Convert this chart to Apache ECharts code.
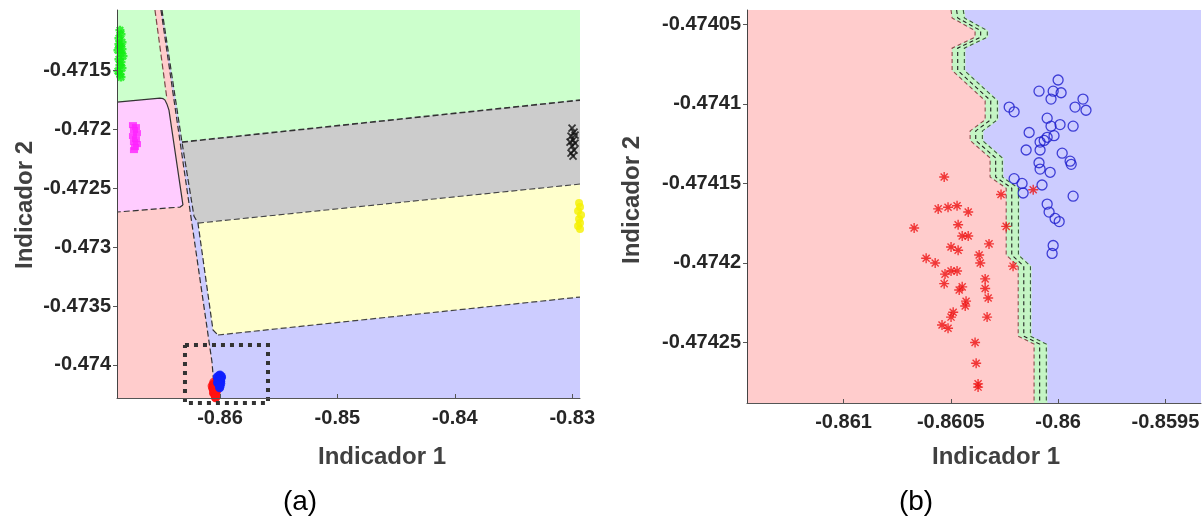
<!DOCTYPE html>
<html>
<head>
<meta charset="utf-8">
<script src="https://cdn.jsdelivr.net/npm/echarts@6/dist/echarts.min.js"></script>
<style>
html, body { margin: 0; padding: 0; background: #fff; }
#chart { width: 1203px; height: 526px; }
</style>
</head>
<body>
<div id="chart"></div>
<script>
// ---------- samples (Indicador 1, Indicador 2) ----------
const greenPts = [
  [-0.868518, -0.471161], [-0.868433, -0.471195], [-0.868603, -0.471229], [-0.868348, -0.471263],
  [-0.868603, -0.471280], [-0.868518, -0.471297], [-0.868348, -0.471322], [-0.868688, -0.471331],
  [-0.868433, -0.471356], [-0.868262, -0.471381], [-0.868603, -0.471407], [-0.868433, -0.471432],
  [-0.868518, -0.471458], [-0.868348, -0.471483], [-0.868688, -0.471508], [-0.868518, -0.471534],
  [-0.868433, -0.471559]
];
const magentaPts = [
  [-0.867411, -0.471966], [-0.867155, -0.471983], [-0.867325, -0.472008], [-0.867070, -0.472034],
  [-0.867411, -0.472059], [-0.867155, -0.472085], [-0.867325, -0.472110], [-0.867070, -0.472127],
  [-0.867240, -0.472153], [-0.867325, -0.472178]
];
const blackPts = [
  [-0.830017, -0.471992], [-0.829847, -0.472025], [-0.829761, -0.472051], [-0.830102, -0.472059],
  [-0.829932, -0.472093], [-0.830187, -0.472110], [-0.829761, -0.472119], [-0.830017, -0.472144],
  [-0.829847, -0.472178], [-0.830102, -0.472203], [-0.829932, -0.472229]
];
const yellowPts = [
  [-0.829421, -0.472627], [-0.829336, -0.472661], [-0.829506, -0.472695], [-0.829250, -0.472729],
  [-0.829421, -0.472763], [-0.829336, -0.472797], [-0.829506, -0.472822], [-0.829336, -0.472847]
];
// red and blue classes, shown in both panels
const redPts = [
  [-0.860531, -0.474146], [-0.860671, -0.474178], [-0.860615, -0.474197], [-0.860559, -0.474166],
  [-0.860513, -0.474165], [-0.860471, -0.474164], [-0.860419, -0.474168], [-0.860466, -0.474176],
  [-0.860447, -0.474183], [-0.860419, -0.474183], [-0.860266, -0.474157], [-0.860242, -0.474177],
  [-0.860322, -0.474188], [-0.860499, -0.474190], [-0.860466, -0.474192], [-0.860368, -0.474195],
  [-0.860363, -0.474200], [-0.860210, -0.474202], [-0.860527, -0.474207], [-0.860499, -0.474205],
  [-0.860471, -0.474205], [-0.860531, -0.474213], [-0.860340, -0.474210], [-0.860461, -0.474217],
  [-0.860447, -0.474215], [-0.860340, -0.474216], [-0.860326, -0.474222], [-0.860429, -0.474224],
  [-0.860433, -0.474227], [-0.860489, -0.474231], [-0.860499, -0.474234], [-0.860331, -0.474234],
  [-0.860541, -0.474239], [-0.860513, -0.474241], [-0.860387, -0.474250], [-0.860382, -0.474263],
  [-0.860373, -0.474276], [-0.860373, -0.474278], [-0.860116, -0.474154], [-0.860573, -0.474200]
];
const bluePts = [
  [-0.860000, -0.474085], [-0.860089, -0.474092], [-0.860023, -0.474092], [-0.859986, -0.474093],
  [-0.860033, -0.474097], [-0.859884, -0.474097], [-0.859921, -0.474102], [-0.859870, -0.474104],
  [-0.860228, -0.474102], [-0.860205, -0.474105], [-0.860051, -0.474109], [-0.860033, -0.474114],
  [-0.859991, -0.474113], [-0.859930, -0.474114], [-0.860135, -0.474118], [-0.860051, -0.474121],
  [-0.860019, -0.474120], [-0.860084, -0.474124], [-0.860065, -0.474123], [-0.860149, -0.474129],
  [-0.860084, -0.474129], [-0.859981, -0.474131], [-0.860089, -0.474137], [-0.859944, -0.474136],
  [-0.859939, -0.474138], [-0.860084, -0.474141], [-0.860037, -0.474143], [-0.860205, -0.474147],
  [-0.860168, -0.474150], [-0.860075, -0.474151], [-0.860163, -0.474156], [-0.859930, -0.474158],
  [-0.860051, -0.474163], [-0.860042, -0.474168], [-0.860014, -0.474172], [-0.859995, -0.474174],
  [-0.860023, -0.474189], [-0.860028, -0.474194]
];

// ---------- axes ----------
const aXTicks = [-0.86, -0.85, -0.84, -0.83];
const aYTicks = [-0.474, -0.4735, -0.473, -0.4725, -0.472, -0.4715];
const bXTicks = [-0.861, -0.8605, -0.86, -0.8595];
const bYTicks = [-0.47425, -0.4742, -0.47415, -0.4741, -0.47405];
const aXRange = [-0.86877, -0.82934];
const aYRange = [-0.47428, -0.47099];
const bXRange = [-0.86145, -0.859334];
const bYRange = [-0.474288, -0.474041];

// ---------- decision regions, panel (a) ----------
const aFull = [[aXRange[0], aYRange[1]], [aXRange[1], aYRange[1]], [aXRange[1], aYRange[0]], [aXRange[0], aYRange[0]]];
const regionRed = [[-0.86877, -0.47099], [-0.865026, -0.47099], [-0.860681, -0.473975], [-0.860426, -0.47428], [-0.86877, -0.47428]];
const regionGreenLeft = [[-0.86877, -0.47099], [-0.865537, -0.47099], [-0.864514, -0.471746], [-0.865111, -0.471737], [-0.86877, -0.471771]];
const regionGreenRight = [[-0.86494, -0.47099], [-0.82934, -0.47099], [-0.82934, -0.471754], [-0.863237, -0.47211]];
const regionMagenta = [[-0.86877, -0.471771], [-0.865111, -0.471737], [-0.864855, -0.471741], [-0.864685, -0.471754],
  [-0.864514, -0.471788], [-0.864344, -0.471839], [-0.863152, -0.472644], [-0.863407, -0.472661], [-0.86877, -0.472703]];
const regionGray = [[-0.863237, -0.47211], [-0.82934, -0.471754], [-0.82934, -0.472466], [-0.861874, -0.472797], [-0.862215, -0.472737]];
const regionYellow = [[-0.861874, -0.472797], [-0.82934, -0.472466], [-0.82934, -0.473424], [-0.86017, -0.473746], [-0.860596, -0.473703]];
const magentaOutline = [[-0.86877, -0.471771], [-0.865111, -0.471737], [-0.864855, -0.471741], [-0.864685, -0.471754],
  [-0.864514, -0.471788], [-0.864344, -0.471839], [-0.863152, -0.472644]];
const magentaLower = [[-0.863152, -0.472644], [-0.863407, -0.472661], [-0.86877, -0.472703]];
const greenLeftEdge = [[-0.865537, -0.47099], [-0.864514, -0.471746]];
const redEdge = [[-0.865026, -0.47099], [-0.860681, -0.473975], [-0.860426, -0.47428]];
const rightClassEdge = [[-0.86494, -0.47099], [-0.863237, -0.47211], [-0.862215, -0.472737], [-0.861874, -0.472797],
  [-0.860596, -0.473703], [-0.86017, -0.473746]];
const grayTop = [[-0.863237, -0.47211], [-0.82934, -0.471754]];
const grayBottom = [[-0.861874, -0.472797], [-0.82934, -0.472466]];
const yellowBottom = [[-0.86017, -0.473746], [-0.82934, -0.473424]];
// zoomed window outline
const zoomBoxX = [-0.862981, -0.855911];
const zoomBoxY = [-0.473831, -0.474322];

// ---------- decision boundary, panel (b) ----------
const bBoundX = [-0.860499, -0.860494, -0.860387, -0.860387, -0.860494, -0.860494, -0.86034, -0.86034, -0.86041,
  -0.86041, -0.860317, -0.860317, -0.860242, -0.860242, -0.860186, -0.860186, -0.860112, -0.860112];
const bBoundY = [-0.474041, -0.474046, -0.474054, -0.474058, -0.474065, -0.474079, -0.474098, -0.47411, -0.474117,
  -0.474123, -0.474134, -0.474146, -0.474153, -0.474195, -0.474202, -0.474246, -0.474251, -0.474288];
const marginBand = 0.000062;   // width of the margin band along Indicador 1

const FONT = "'Liberation Sans', Arial, Helvetica, sans-serif";
const fmt = v => String(Number(v.toFixed(6)));

const boundary = bBoundX.map((x, i) => [x, bBoundY[i]]);
const shifted = d => boundary.map(([x, y]) => [x + d, y]);
const bFull = [[bXRange[0], bYRange[1]], [bXRange[1], bYRange[1]], [bXRange[1], bYRange[0]], [bXRange[0], bYRange[0]]];
const bRed = [[bXRange[0], bYRange[1]], ...boundary, [bXRange[0], bYRange[0]]];
const bBand = [...boundary, ...shifted(marginBand).reverse()];

function polygonSeries(idx, pts, fill, z) {
  return {
    type: 'custom', xAxisIndex: idx, yAxisIndex: idx, z, silent: true, clip: false,
    data: [pts[0]],
    renderItem: (params, api) => ({
      type: 'polygon',
      shape: { points: pts.map(p => api.coord(p)) },
      style: { fill: fill, stroke: null }
    })
  };
}
function pathSeries(idx, pts, stroke, lineWidth, lineDash, z) {
  return {
    type: 'custom', xAxisIndex: idx, yAxisIndex: idx, z, silent: true, clip: false,
    data: [pts[0]],
    renderItem: (params, api) => ({
      type: 'polyline',
      shape: { points: pts.map(p => api.coord(p)) },
      style: { stroke, lineWidth, lineDash, fill: null }
    })
  };
}
const ASTERISK = 'path://M5,0L5,10M0,5L10,5M1.46,1.46L8.54,8.54M1.46,8.54L8.54,1.46';
const CROSS = 'path://M0,0L10,10M0,10L10,0';
function scatter(idx, data, symbol, size, style, z) {
  return { type: 'scatter', xAxisIndex: idx, yAxisIndex: idx, data, symbol, symbolSize: size,
    itemStyle: style, z: z || 6, clip: false, silent: true, animation: false };
}

function xAxis(idx, range, ticks, margin) {
  return {
    type: 'value', gridIndex: idx, min: range[0], max: range[1], z: 10,
    axisLine: { show: true, onZero: false, lineStyle: { color: '#555', width: 1 } },
    axisTick: { show: true, inside: true, length: 4, customValues: ticks, lineStyle: { color: '#555' } },
    axisLabel: { customValues: ticks, formatter: fmt, color: '#262626', fontSize: 20, fontWeight: 'bold',
      fontFamily: FONT, margin },
    splitLine: { show: false }
  };
}
function yAxis(idx, range, ticks, margin) {
  return {
    type: 'value', gridIndex: idx, min: range[0], max: range[1], z: 10,
    axisLine: { show: true, onZero: false, lineStyle: { color: '#444', width: 1 } },
    axisTick: { show: true, inside: false, length: 4, customValues: ticks, lineStyle: { color: '#555' } },
    axisLabel: { customValues: ticks, formatter: fmt, color: '#262626', fontSize: 20, fontWeight: 'bold',
      fontFamily: FONT, margin },
    splitLine: { show: false }
  };
}

const chart = echarts.init(document.getElementById('chart'), null, { renderer: 'canvas' });
const DASH = [6, 3];
const option = {
  animation: false,
  backgroundColor: '#ffffff',
  grid: [
    { left: 117, top: 10, right: 623, bottom: 128 },
    { left: 747, top: 10, right: 2, bottom: 123 }
  ],
  xAxis: [xAxis(0, aXRange, aXTicks, 10), xAxis(1, bXRange, bXTicks, 9)],
  yAxis: [yAxis(0, aYRange, aYTicks, 6), yAxis(1, bYRange, bYTicks, 6)],
  series: [
    // panel (a) regions
    polygonSeries(0, aFull, '#ccccff', 1),
    polygonSeries(0, regionRed, '#ffcccc', 2),
    polygonSeries(0, regionGreenLeft, '#ccffcc', 2),
    polygonSeries(0, regionGreenRight, '#ccffcc', 2),
    polygonSeries(0, regionMagenta, '#ffccff', 3),
    polygonSeries(0, regionGray, '#cccccc', 2),
    polygonSeries(0, regionYellow, '#ffffcc', 2),
    pathSeries(0, magentaOutline, '#333', 1.2, null, 4),
    pathSeries(0, magentaLower, '#333', 1.2, DASH, 4),
    pathSeries(0, greenLeftEdge, '#7a4848', 1.2, DASH, 4),
    pathSeries(0, redEdge, '#333', 1.2, DASH, 4),
    pathSeries(0, rightClassEdge, '#333', 1.2, DASH, 4),
    pathSeries(0, grayTop, '#333', 1.6, DASH, 4),
    pathSeries(0, grayBottom, '#444', 1.1, DASH, 4),
    pathSeries(0, yellowBottom, '#444', 1.2, DASH, 4),
    pathSeries(0, [[zoomBoxX[0], zoomBoxY[0]], [zoomBoxX[1], zoomBoxY[0]], [zoomBoxX[1], zoomBoxY[1]],
      [zoomBoxX[0], zoomBoxY[1]], [zoomBoxX[0], zoomBoxY[0]]], '#333', 4, [4, 5], 8),
    // panel (a) samples
    scatter(0, greenPts, ASTERISK, 9, { color: 'rgba(0,0,0,0)', borderColor: '#11ee11', borderWidth: 2.4 }),
    scatter(0, magentaPts, 'rect', [8, 6], { color: '#ff22ff' }),
    scatter(0, blackPts, CROSS, 7, { color: 'rgba(0,0,0,0)', borderColor: '#111', borderWidth: 1.8 }),
    scatter(0, yellowPts, 'circle', 8, { color: '#f5f000' }),
    scatter(0, redPts, 'circle', 9, { color: '#ff1010' }),
    scatter(0, bluePts, 'circle', 9, { color: '#1020ff' }, 7),
    // panel (b) regions
    polygonSeries(1, bFull, '#ccccff', 1),
    polygonSeries(1, bRed, '#ffcccc', 2),
    polygonSeries(1, bBand, '#c4f5c4', 2),
    pathSeries(1, boundary, '#8b4a4a', 1.1, [4, 3], 4),
    pathSeries(1, shifted(marginBand * 0.42), '#222', 1.1, [4, 3], 4),
    pathSeries(1, shifted(marginBand * 0.92), '#3b5b3b', 1.1, [4, 3], 4),
    // panel (b) samples
    scatter(1, redPts, ASTERISK, 10, { color: 'rgba(0,0,0,0)', borderColor: '#ee1111', borderWidth: 1.4 }),
    scatter(1, bluePts, 'circle', 10, { color: 'rgba(0,0,0,0)', borderColor: '#1a1acc', borderWidth: 1.3 })
  ],
  graphic: [
    { type: 'text', x: 25, y: 205, rotation: Math.PI / 2,
      style: { text: 'Indicador 2', font: 'bold 24px ' + FONT, fill: '#404040', textAlign: 'center', textVerticalAlign: 'middle' } },
    { type: 'text', x: 382, y: 457,
      style: { text: 'Indicador 1', font: 'bold 24px ' + FONT, fill: '#404040', textAlign: 'center', textVerticalAlign: 'middle' } },
    { type: 'text', x: 632, y: 200, rotation: Math.PI / 2,
      style: { text: 'Indicador 2', font: 'bold 24px ' + FONT, fill: '#404040', textAlign: 'center', textVerticalAlign: 'middle' } },
    { type: 'text', x: 996, y: 457,
      style: { text: 'Indicador 1', font: 'bold 24px ' + FONT, fill: '#404040', textAlign: 'center', textVerticalAlign: 'middle' } },
    { type: 'text', x: 300, y: 502,
      style: { text: '(a)', font: '28px ' + FONT, fill: '#000', textAlign: 'center', textVerticalAlign: 'middle' } },
    { type: 'text', x: 916, y: 502,
      style: { text: '(b)', font: '28px ' + FONT, fill: '#000', textAlign: 'center', textVerticalAlign: 'middle' } }
  ]
};
chart.setOption(option);
</script>
</body>
</html>
